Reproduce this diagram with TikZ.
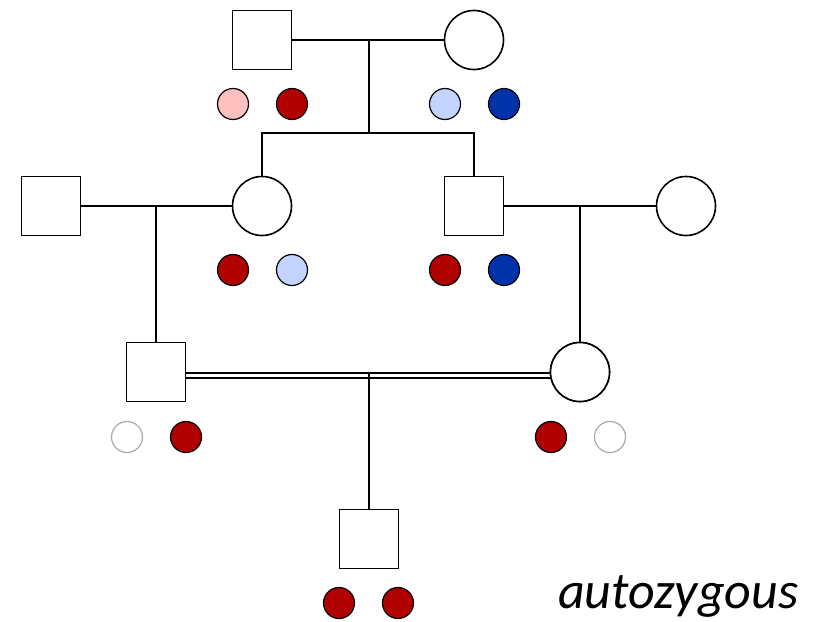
\documentclass[tikz,border=0pt]{standalone}
\usepackage{fontspec}
\newfontfamily\labelfont{Carlito}
\begin{document}
\begin{tikzpicture}[x=1pt,y=-1pt,
  person/.style={draw=black,line width=1.6pt,fill=white,inner sep=0pt,outer sep=0pt},
  male/.style={person,rectangle,minimum width=59pt,minimum height=59pt},
  female/.style={person,circle,minimum size=59pt},
  allele/.style={circle,draw=black,line width=1.2pt,inner sep=0pt,minimum size=31pt},
  rline/.style={line width=1.6pt,draw=black}]
\definecolor{darkred}{HTML}{B00000}
\definecolor{lightred}{HTML}{FFC0C0}
\definecolor{lightblue}{HTML}{C2D4FF}
\definecolor{darkblue}{HTML}{0033AA}
\definecolor{absentgray}{HTML}{AAAAAA}
\useasboundingbox (0,0) rectangle (819,621);

% generation I
\node[male]   (gf) at (262,40) {};
\node[female] (gm) at (474,40) {};
% generation II
\node[male]   (p1) at (51,206) {};
\node[female] (d1) at (262,206) {};
\node[male]   (s1) at (474,206) {};
\node[female] (p2) at (686,206) {};
% generation III
\node[male]   (c1) at (156,372) {};
\node[female] (c2) at (580,372) {};
% generation IV
\node[male]   (pb) at (369,539) {};

% couples and descent lines
\coordinate (m1) at (369,40);
\coordinate (sib) at (369,133);
\draw[rline] (gf.east) -- (gm.west);
\draw[rline] (m1) -- (sib);
\draw[rline] (d1.north) |- (sib) -| (s1.north);

\coordinate (m2) at (156,206);
\draw[rline] (p1.east) -- (d1.west);
\draw[rline] (m2) -- (c1.north);

\coordinate (m3) at (580,206);
\draw[rline] (s1.east) -- (p2.west);
\draw[rline] (m3) -- (c2.north);

% consanguineous union (double line)
\coordinate (m4) at (369,373);
\draw[rline] ([yshift=-1pt]c1.east) -- ([yshift=-1pt]c2.west |- c1.east);
\draw[rline] ([yshift=-6pt]c1.east) -- ([yshift=-6pt]c2.west |- c1.east);
\draw[rline] (m4) -- (pb.north);
% redraw the circle outline over the double line ends
\node[female] at (c2) {};

% alleles
\node[allele,fill=lightred]  (a1) at (233,104) {};
\node[allele,fill=darkred]   (a2) at (292,104) {};
\node[allele,fill=lightblue] (a3) at (445,104) {};
\node[allele,fill=darkblue]  (a4) at (504,104) {};

\node[allele,fill=darkred]   (b1) at (233,270) {};
\node[allele,fill=lightblue] (b2) at (292,270) {};
\node[allele,fill=darkred]   (b3) at (445,270) {};
\node[allele,fill=darkblue]  (b4) at (504,270) {};

\node[allele,draw=absentgray,fill=white] (e1) at (127,437) {};
\node[allele,fill=darkred]   (e2) at (186,437) {};
\node[allele,fill=darkred]   (e3) at (551,437) {};
\node[allele,draw=absentgray,fill=white] (e4) at (610,437) {};

\node[allele,fill=darkred]   (f1) at (339,603) {};
\node[allele,fill=darkred]   (f2) at (398,603) {};

\node[anchor=base west,inner sep=0pt] (lbl) at (558,608)
  {\labelfont\itshape\fontsize{52}{58}\selectfont autozygous};
\end{tikzpicture}
\end{document}
